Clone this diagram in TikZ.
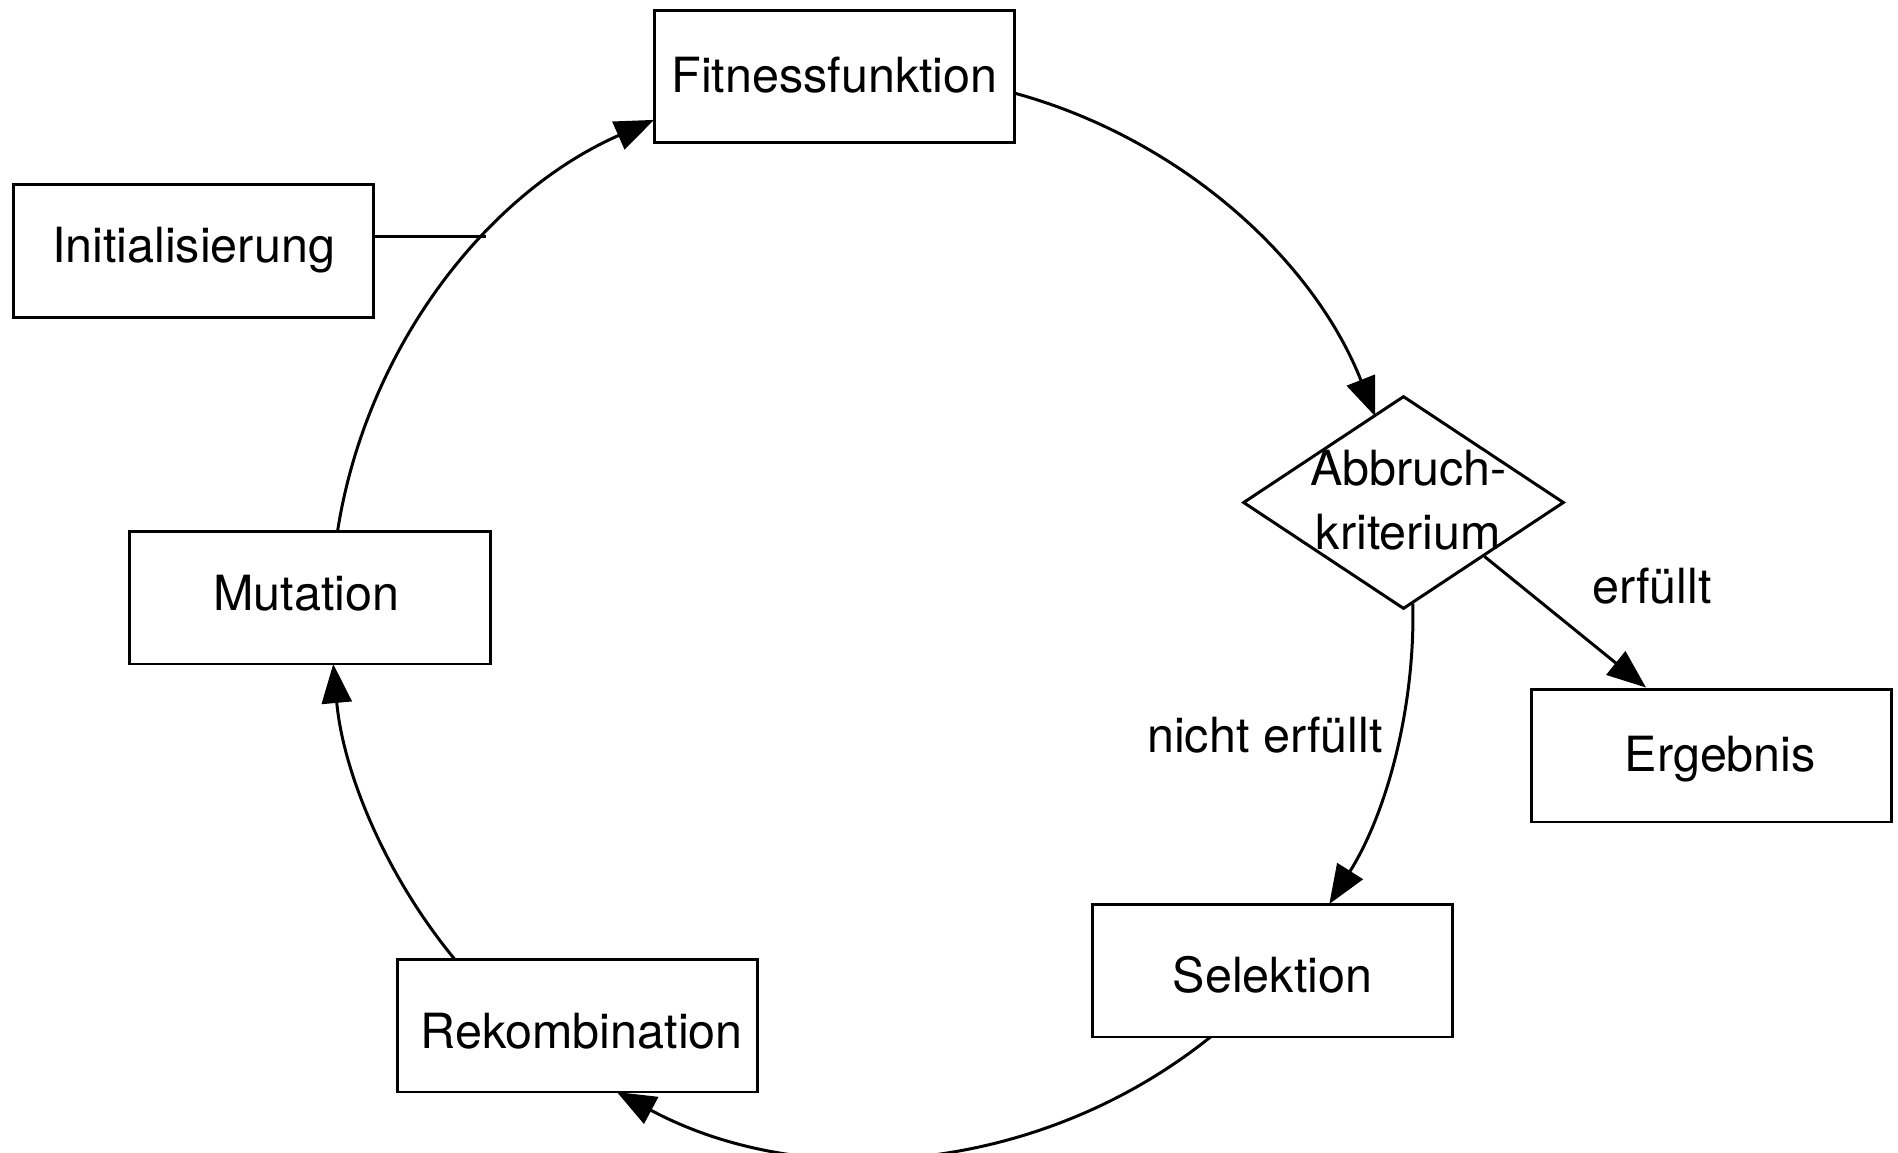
\documentclass[tikz,border=0pt]{standalone}
\usepackage{fontspec}
\setmainfont{TeX Gyre Heros}
\usetikzlibrary{arrows.meta,shapes.geometric,calc}
\begin{document}
\begin{tikzpicture}[x=0.02cm,y=-0.02cm,line width=1.7pt,
  fnt/.style={font=\fontsize{27.6}{36.5}\selectfont},
  lbl/.style={fnt,inner sep=0pt,text height=19.8pt,text depth=0pt},
  box/.style={lbl,draw,minimum width=7.22cm,minimum height=2.66cm},
  arr/.style={-{Triangle[length=0.78cm,width=0.6cm]}}]
\useasboundingbox (0,0) rectangle (1898,1153);
% nodes
\node[box,text depth=1.7pt] (fit) at (834.5,76.5) {Fitnessfunktion};
\node[box,text depth=6.8pt] (init) at (193.5,251) {Initialisierung};
\node[box,text depth=5.1pt] (mut) at (310,597.5) {Mutation\hspace*{0.148cm}};
\node[box,text height=25.8pt] (rek) at (577.5,1025.5) {\hspace*{0.168cm}Rekombination};
\node[box,text height=24.6pt] (sel) at (1272.5,970.5) {Selektion};
\node[box,text depth=1.7pt] (erg) at (1711.5,755.5) {\hspace*{0.352cm}Ergebnis};
\node[draw,diamond,minimum width=6.42cm,minimum height=4.26cm,inner sep=0pt] (dia) at (1403.5,502.5) {};
\node[fnt,inner sep=0pt,align=center,anchor=north] (diatext) at (1408.5,449) {Abbruch-\\kriterium};
% circle points
\coordinate (c) at (872,615);
\path (c) ++(-74.67:541) coordinate (f1);
\path (c) ++(-1.2:541) coordinate (d1);
\path (c) ++(51.27:541) coordinate (s1);
\path (c) ++(140.51:541) coordinate (r1);
\path (c) ++(188.93:541) coordinate (m1);
\path (c) ++(224.47:541) coordinate (ij);
% connectors
\draw[arr] (f1) arc[start angle=-74.67,end angle=-21.55,radius=541];
\draw[arr] (d1) arc[start angle=-1.2,end angle=32.29,radius=541];
\draw[arr] (s1) arc[start angle=51.27,end angle=118.14,radius=541];
\draw[arr] (r1) arc[start angle=140.51,end angle=174.80,radius=541];
\draw[arr] (m1) arc[start angle=188.93,end angle=246.24,radius=541];
\draw (init.east |- ij) -- (ij);
\draw[arr] (dia.south east) -- ([xshift=-1.31cm]erg.north);
% labels
\node[lbl] (erf) at (1652,586) {erfüllt};
\node[lbl] (nerf) at (1265,735) {nicht erfüllt};
\end{tikzpicture}
\end{document}
